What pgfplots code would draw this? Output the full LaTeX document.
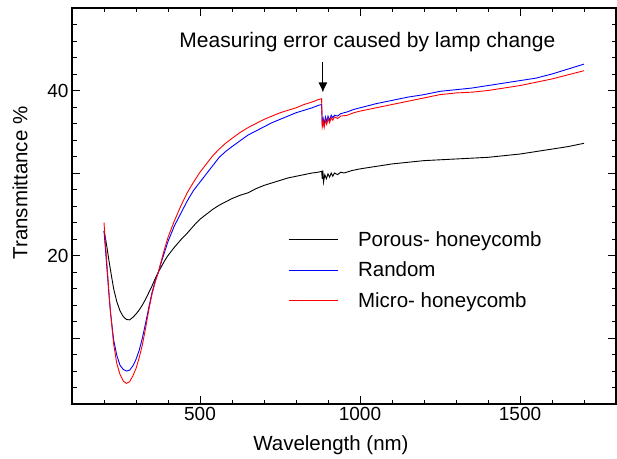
\documentclass[border=0pt]{standalone}
\usepackage{fontspec}
\setmainfont{Liberation Sans}
\usepackage{pgfplots}
\pgfplotsset{compat=1.18}
\usetikzlibrary{arrows.meta}

\begin{document}
\begin{tikzpicture}
\begin{axis}[
  scale only axis,
  width=544pt, height=396pt,
  xmin=100, xmax=1800, ymin=2, ymax=50,
  xtick={500,1000,1500},
  minor xtick={200,300,400,600,700,800,900,1100,1200,1300,1400,1600,1700},
  ytick={10,20,30,40},
  yticklabels={,20,,40},
  minor ytick={4,6,8,12,14,16,18,22,24,26,28,32,34,36,38,42,44,46,48},
  tick align=inside,
  major tick length=8pt, minor tick length=4.5pt,
  every tick/.style={black, line width=0.9pt},
  axis line style={line width=1.1pt},
  /pgf/number format/assume math mode=true,
  /pgf/number format/1000 sep={},
  tick label style={font=\fontsize{19}{19}\selectfont},
  xlabel={Wavelength (nm)},
  ylabel={Transmittance \%},
  label style={font=\fontsize{20.5}{20.5}\selectfont},
  xlabel style={at={(axis description cs:0.476,-0.1035)}, anchor=center},
  ylabel style={at={(axis description cs:-0.0956,0.558)}, anchor=center, rotate=0},
  legend style={draw=none, fill=none, at={(axis description cs:0.397,0.4545)}, anchor=north west,
    inner sep=0pt, row sep=0pt, column sep=0pt,
    font=\fontsize{20.5}{20.5}\selectfont,
    nodes={inner sep=0pt, minimum height=30.5pt},
    /tikz/every odd column/.append style={column sep=20pt}},
  legend cell align=left,
  legend image code/.code={\draw[#1] (0pt,0pt) -- (49pt,0pt);},
]
\addplot[black, line width=0.9pt] coordinates {
(200,23.0) (205,22.0) (210,20.8) (215,19.5) (220,18.3) (230,16.0) (240,14.4) (250,13.3)
(260,12.6) (270,12.25) (280,12.2) (290,12.5) (300,12.9) (310,13.4) (320,14.0) (330,14.7)
(340,15.5) (350,16.3) (360,17.2) (370,18.0) (380,18.7) (390,19.4) (400,20.0) (420,21.0)
(440,21.9) (460,22.7) (480,23.6) (500,24.4) (520,25.0) (540,25.6) (560,26.1) (580,26.5)
(600,26.9) (625,27.3) (650,27.6) (675,28.1) (700,28.5) (725,28.8) (750,29.1) (775,29.4)
(800,29.6) (825,29.8) (850,30.0) (870,30.1) (880,30.2) (882,29.3) (884,30.3) (886,28.9)
(890,29.8) (895,29.3) (900,29.9) (905,29.5) (910,30.0) (915,29.6) (920,30.0) (930,29.8)
(940,30.1) (950,30.0) (975,30.3) (1000,30.5) (1050,30.8) (1100,31.1) (1150,31.3)
(1200,31.5) (1250,31.6) (1300,31.7) (1350,31.8) (1400,31.9) (1450,32.1) (1500,32.3)
(1550,32.6) (1600,32.9) (1650,33.2) (1700,33.6)
};
\addlegendentry{Porous- honeycomb}
\addplot[blue, line width=0.9pt] coordinates {
(200,23.0) (205,20.5) (210,18.0) (215,15.5) (220,13.2) (230,9.8) (240,7.9) (250,6.7)
(260,6.2) (270,6.0) (280,6.1) (290,6.6) (300,7.4) (310,8.5) (320,10.0) (330,11.8)
(340,13.7) (350,15.5) (360,16.9) (370,18.0) (380,19.3) (390,20.5) (400,21.7) (420,23.6)
(440,25.1) (460,26.6) (480,27.9) (500,28.9) (520,29.9) (540,30.9) (560,31.9) (580,32.6)
(600,33.2) (625,33.9) (650,34.6) (675,35.1) (700,35.6) (725,36.1) (750,36.5) (775,36.9)
(800,37.3) (825,37.6) (850,37.9) (870,38.2) (880,38.3) (882,36.0) (885,36.6) (888,35.9)
(892,36.8) (896,36.2) (900,36.9) (905,36.4) (910,37.0) (915,36.7) (920,37.0) (930,36.9)
(940,37.2) (960,37.4) (980,37.7) (1000,37.9) (1050,38.4) (1100,38.8) (1150,39.2)
(1200,39.5) (1250,39.9) (1300,40.1) (1350,40.3) (1400,40.6) (1450,40.9) (1500,41.2)
(1550,41.5) (1600,42.0) (1650,42.6) (1700,43.2)
};
\addlegendentry{Random}
\addplot[red, line width=0.9pt] coordinates {
(200,24.0) (205,21.2) (210,18.5) (215,15.8) (220,13.3) (230,9.3) (240,6.9) (250,5.6)
(260,4.8) (270,4.5) (280,4.7) (290,5.4) (300,6.3) (310,7.6) (320,9.2) (330,11.2)
(340,13.4) (350,15.3) (360,16.8) (370,18.0) (380,19.5) (390,20.9) (400,22.2) (420,24.2)
(440,26.0) (460,27.6) (480,28.9) (500,30.1) (520,31.1) (540,32.1) (560,32.9) (580,33.6)
(600,34.2) (625,34.9) (650,35.5) (675,36.0) (700,36.5) (725,36.9) (750,37.3) (775,37.6)
(800,37.9) (825,38.3) (850,38.6) (870,38.9) (880,39.0) (882,35.6) (885,36.2) (888,35.5)
(892,36.4) (896,35.9) (900,36.6) (905,36.1) (910,36.7) (915,36.4) (920,36.8) (930,36.6)
(940,36.9) (960,37.0) (980,37.3) (1000,37.5) (1050,37.9) (1100,38.3) (1150,38.7)
(1200,39.1) (1250,39.5) (1300,39.7) (1350,39.8) (1400,40.0) (1450,40.3) (1500,40.6)
(1550,41.0) (1600,41.4) (1650,41.9) (1700,42.4)
};
\addlegendentry{Micro- honeycomb}
\node[anchor=base, inner sep=0pt, font=\fontsize{21}{21}\selectfont] at (axis cs:1023,45.16) {Measuring error caused by lamp change};
\draw[line width=1.1pt, -{Latex[length=10pt,width=9pt]}] (axis cs:884,43.4) -- (axis cs:884,39.76);
\end{axis}
\pgfresetboundingbox
\path ([shift={(-72pt,-54pt)}]current axis.south west) rectangle ([shift={(1pt,8pt)}]current axis.north east);
\end{tikzpicture}
\end{document}
